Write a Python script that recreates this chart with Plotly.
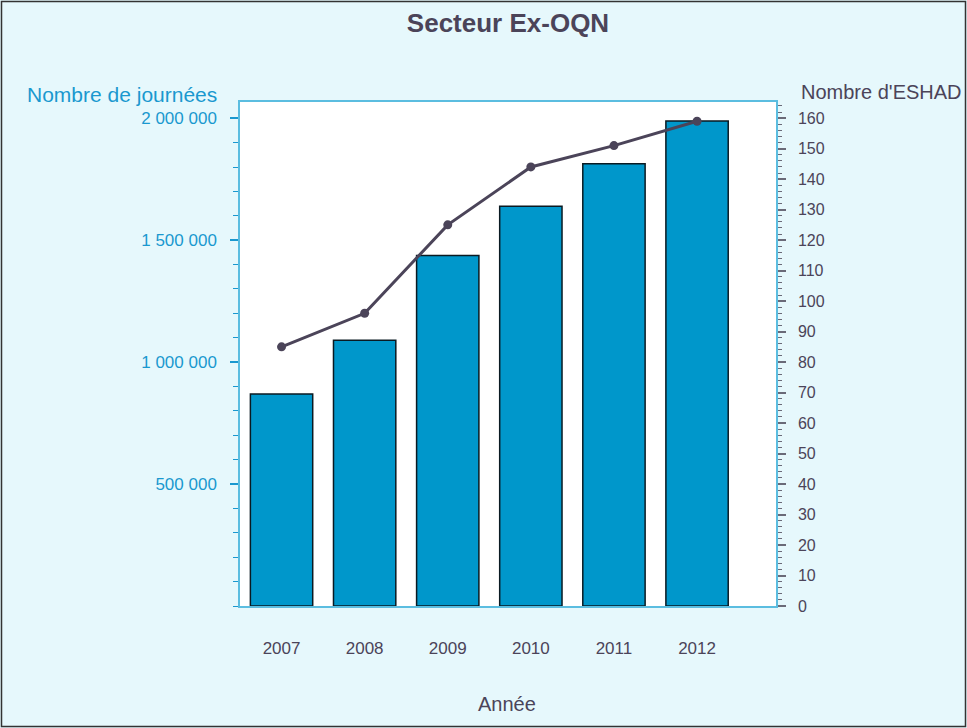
import plotly.graph_objects as go

years = ["2007", "2008", "2009", "2010", "2011", "2012"]
journees = [869000, 1090000, 1437000, 1639000, 1814000, 1989000]
eshad = [85, 96, 125, 144, 151, 159]
left_tickvals = [500000, 1000000, 1500000, 2000000]

BLUE = "#1a98cf"
BAR = "#0097cb"
DARK = "#4b4459"
BG = "#e6f8fc"
FONT = "Liberation Sans, Arial, sans-serif"

L, R, T, B = 240, 191, 102, 122
W, H = 967, 728
pw, ph = W - L - R, H - T - B

fig = go.Figure()
fig.add_trace(go.Bar(x=years, y=journees, width=0.75,
                     marker=dict(color=BAR, line=dict(color="#0a1a22", width=1.5)),
                     yaxis="y", showlegend=False))
fig.add_trace(go.Scatter(x=years, y=eshad, mode="lines+markers",
                         line=dict(color=DARK, width=3),
                         marker=dict(color=DARK, size=9),
                         yaxis="y2", showlegend=False))

fig.update_layout(
    width=W, height=H,
    margin=dict(l=L, r=R, t=T, b=B),
    paper_bgcolor=BG, plot_bgcolor="white",
    separators=". ",
    font=dict(family=FONT, size=17, color=DARK),
    title=dict(text="<b>Secteur Ex-OQN</b>", x=0.5, xref="paper", xanchor="center",
               y=1 - 23 / H, yref="container", yanchor="middle",
               font=dict(size=26, color=DARK, family=FONT)),
    xaxis=dict(type="category", range=[-0.5, 5.95], showline=True, linecolor="#5bbde0",
               linewidth=1.5, mirror=True, ticks="", ticklabelstandoff=26,
               tickfont=dict(size=17, color=DARK), showgrid=False, zeroline=False),
    yaxis=dict(range=[0, 2066800], tickvals=left_tickvals, tickformat=",d",
               showline=True, linecolor="#5bbde0", linewidth=1.5, mirror=True,
               ticks="outside", ticklen=8, tickcolor=BLUE, tickwidth=1.5,
               ticklabelstandoff=10,
               minor=dict(dtick=100000, ticks="outside", ticklen=5, tickcolor=BLUE, tickwidth=1),
               tickfont=dict(size=17, color=BLUE), showgrid=False, zeroline=False),
    yaxis2=dict(range=[0, 165.3], dtick=10, overlaying="y", side="right",
                showline=True, linecolor="#5bbde0", linewidth=1.5,
                ticks="outside", ticklen=8, tickcolor="#6a6a78", tickwidth=1.5,
                ticklabelstandoff=9,
                minor=dict(dtick=2, ticks="outside", ticklen=4, tickcolor="#6a6a78", tickwidth=1),
                tickfont=dict(size=16, color=DARK), showgrid=False, zeroline=False),
    annotations=[
        dict(text="Nombre de journées", xref="paper", yref="paper",
             x=(219 - L) / pw, y=(H - B - 94) / ph, xanchor="right", yanchor="middle",
             showarrow=False, font=dict(size=21, color=BLUE, family=FONT)),
        dict(text="Nombre d'ESHAD", xref="paper", yref="paper",
             x=(799 - L) / pw, y=(H - B - 92) / ph, xanchor="left", yanchor="middle",
             showarrow=False, font=dict(size=20, color=DARK, family=FONT)),
        dict(text="Année", xref="paper", yref="paper",
             x=(507 - L) / pw, y=(H - B - 704) / ph, xanchor="center", yanchor="middle",
             showarrow=False, font=dict(size=20, color=DARK, family=FONT)),
    ],
    shapes=[dict(type="rect", xref="paper", yref="paper",
                 x0=(1.5 - L) / pw, x1=(965.5 - L) / pw,
                 y0=(H - B - 726.5) / ph, y1=(H - B - 1.5) / ph,
                 line=dict(color="#333333", width=1.5), fillcolor="rgba(0,0,0,0)", layer="below")],
)

fig.write_html("out.html", config={"displayModeBar": False},
               post_script="document.body.style.margin='0';document.body.style.overflow='hidden';")
